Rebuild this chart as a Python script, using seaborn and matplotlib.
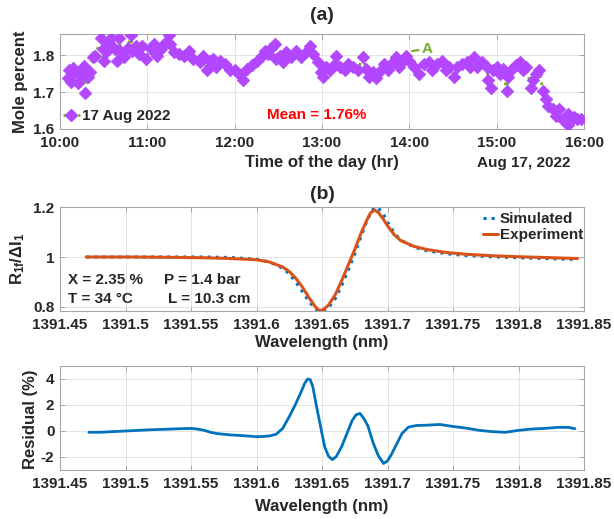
import numpy as np
import pandas as pd
import matplotlib
matplotlib.use('Agg')
import matplotlib.pyplot as plt
from matplotlib.lines import Line2D
import seaborn as sns

# ---------------- Panel (a) data ----------------
minutes_after_10 = [5.7, 6.1, 7.5, 9.1, 10.6, 12.5, 13.6, 15.8, 16.5, 17.4, 19.2, 20.4, 22.6, 24.2,
                    28.3, 29.4, 30.1, 32.4, 34.0, 35.1, 38.0, 39.2, 40.8, 41.4, 44.1, 46.4, 48.7,
                    49.8, 52.1, 54.3, 56.6, 58.9, 62.3, 64.5, 66.8, 69.1, 72.4, 74.7, 75.8, 78.1,
                    81.5, 84.9, 88.3, 91.7, 96.2, 98.5, 100.7, 103.0, 105.3, 107.5, 109.8, 113.2,
                    116.6, 120.2, 123.6, 125.9, 128.2, 131.6, 135.1, 138.5, 140.8, 143.0, 145.3,
                    147.6, 148.7, 151.0, 153.3, 155.6, 159.0, 162.4, 165.8, 169.3, 171.6, 173.8,
                    177.3, 179.5, 180.7, 183.0, 185.2, 188.7, 189.8, 192.1, 195.5, 197.8, 201.2,
                    204.6, 208.0, 210.3, 212.6, 214.9, 217.2, 220.6, 222.9, 225.2, 228.6, 230.9,
                    233.2, 235.4, 237.7, 240.0, 243.4, 246.8, 250.2, 253.6, 255.8, 259.2, 262.6,
                    264.9, 267.2, 270.6, 272.8, 276.2, 279.6, 281.9, 284.1, 286.4, 289.8, 293.2,
                    294.3, 296.1, 297.7, 300.0, 302.3, 304.5, 306.8, 307.9, 310.2, 313.6, 315.8,
                    318.1, 320.4, 323.8, 324.9, 327.2, 329.4, 331.7, 334.0, 335.2, 338.5, 340.8,
                    343.1, 345.4, 348.7, 349.1, 350.9, 353.2, 355.5, 357.7]
mole_percent = [1.737, 1.760, 1.728, 1.766, 1.754, 1.724, 1.750, 1.745, 1.770, 1.697, 1.740, 1.755,
                1.796, 1.798, 1.846, 1.816, 1.785, 1.810, 1.833, 1.846, 1.816, 1.785, 1.846, 1.810,
                1.794, 1.820, 1.855, 1.810, 1.825, 1.803, 1.825, 1.790, 1.816, 1.829, 1.798, 1.816,
                1.833, 1.855, 1.829, 1.807, 1.803, 1.798, 1.810, 1.790, 1.780, 1.798, 1.759, 1.785,
                1.790, 1.768, 1.785, 1.776, 1.759, 1.759, 1.746, 1.732, 1.763, 1.772, 1.785, 1.798,
                1.810, 1.803, 1.820, 1.829, 1.790, 1.798, 1.780, 1.807, 1.794, 1.810, 1.794, 1.807,
                1.825, 1.803, 1.780, 1.754, 1.741, 1.768, 1.759, 1.776, 1.798, 1.768, 1.759, 1.776,
                1.768, 1.759, 1.794, 1.763, 1.741, 1.754, 1.737, 1.759, 1.776, 1.759, 1.780, 1.794,
                1.768, 1.785, 1.798, 1.785, 1.768, 1.750, 1.776, 1.780, 1.759, 1.776, 1.785, 1.759,
                1.768, 1.741, 1.768, 1.776, 1.780, 1.768, 1.794, 1.768, 1.780, 1.768, 1.732, 1.710,
                1.759, 1.768, 1.750, 1.763, 1.702, 1.741, 1.763, 1.772, 1.780, 1.759, 1.768, 1.710,
                1.732, 1.750, 1.759, 1.702, 1.680, 1.662, 1.654, 1.636, 1.654, 1.623, 1.610, 1.640,
                1.623, 1.632, 1.627, 1.627]
legend_a = '17 Aug 2022'
mean_text = 'Mean = 1.76%'
time_ticks = [10, 11, 12, 13, 14, 15, 16]
time_tick_labels = ['10:00', '11:00', '12:00', '13:00', '14:00', '15:00', '16:00']
mole_ticks = [1.6, 1.7, 1.8]
mole_tick_labels = ['1.6', '1.7', '1.8']

# ---------------- Panel (b) data ----------------
wavelength_b = [1391.47, 1391.50, 1391.53, 1391.56, 1391.58, 1391.60, 1391.61, 1391.62, 1391.625,
                1391.63, 1391.635, 1391.64, 1391.645, 1391.648, 1391.651, 1391.655, 1391.66,
                1391.665, 1391.67, 1391.675, 1391.68, 1391.684, 1391.687, 1391.69, 1391.693,
                1391.697, 1391.70, 1391.705, 1391.71, 1391.72, 1391.73, 1391.745, 1391.76,
                1391.78, 1391.80, 1391.82, 1391.845]
experiment = [1.000, 1.000, 0.999, 0.997, 0.994, 0.989, 0.980, 0.960, 0.942, 0.915, 0.880, 0.838,
              0.800, 0.786, 0.789, 0.808, 0.848, 0.905, 0.968, 1.030, 1.098, 1.145, 1.176, 1.188,
              1.178, 1.150, 1.125, 1.090, 1.066, 1.043, 1.030, 1.018, 1.011, 1.005, 1.001, 0.998,
              0.994]
simulated = [1.000, 1.000, 1.000, 1.000, 0.998, 0.991, 0.980, 0.955, 0.933, 0.900, 0.862, 0.822,
             0.792, 0.783, 0.784, 0.797, 0.832, 0.885, 0.947, 1.012, 1.085, 1.140, 1.175, 1.198,
             1.196, 1.170, 1.140, 1.097, 1.068, 1.040, 1.025, 1.013, 1.006, 1.001, 0.997, 0.994,
             0.990]
ratio_ticks = [0.8, 1.0, 1.2]
ratio_tick_labels = ['0.8', '1', '1.2']
wl_ticks = [1391.45, 1391.5, 1391.55, 1391.6, 1391.65, 1391.7, 1391.75, 1391.8, 1391.85]
wl_tick_labels = ['1391.45', '1391.5', '1391.55', '1391.6', '1391.65', '1391.7', '1391.75',
                  '1391.8', '1391.85']

# ---------------- Panel (c) data ----------------
wavelength_c = [1391.472, 1391.48, 1391.49, 1391.50, 1391.51, 1391.52, 1391.53, 1391.54, 1391.55,
                1391.555, 1391.56, 1391.565, 1391.57, 1391.58, 1391.59, 1391.60, 1391.605, 1391.61,
                1391.615, 1391.62, 1391.625, 1391.63, 1391.634, 1391.637, 1391.639, 1391.641,
                1391.643, 1391.646, 1391.649, 1391.652, 1391.655, 1391.658, 1391.661, 1391.665,
                1391.669, 1391.673, 1391.676, 1391.679, 1391.682, 1391.685, 1391.689, 1391.693,
                1391.697, 1391.700, 1391.703, 1391.707, 1391.711, 1391.716, 1391.722, 1391.73,
                1391.74, 1391.75, 1391.76, 1391.77, 1391.78, 1391.79, 1391.80, 1391.81, 1391.82,
                1391.83, 1391.838, 1391.843]
residual = [-0.10, -0.10, -0.05, 0.00, 0.05, 0.10, 0.13, 0.17, 0.20, 0.15, 0.05, -0.10, -0.20,
            -0.30, -0.36, -0.44, -0.42, -0.38, -0.25, 0.20, 1.10, 2.10, 3.00, 3.70, 4.00, 3.95,
            3.40, 1.80, 0.30, -1.20, -1.95, -2.20, -1.95, -1.20, -0.20, 0.80, 1.25, 1.35, 0.95,
            0.40, -0.90, -1.90, -2.50, -2.30, -1.80, -1.00, -0.20, 0.30, 0.42, 0.45, 0.50, 0.35,
            0.22, 0.05, -0.05, -0.10, 0.05, 0.15, 0.20, 0.28, 0.28, 0.18]
res_ticks = [-2, 0, 2, 4]
res_tick_labels = ['-2', '0', '2', '4']

# ---------------- style ----------------
sns.set_theme(style='whitegrid')
plt.rcParams['font.family'] = ['Liberation Sans', 'DejaVu Sans']
plt.rcParams['mathtext.fontset'] = 'custom'
plt.rcParams['mathtext.rm'] = 'Liberation Sans:bold'
plt.rcParams['mathtext.it'] = 'Liberation Sans:bold'
plt.rcParams['mathtext.bf'] = 'Liberation Sans:bold'

VIOLET = '#B347FF'
GREEN = '#77AC30'
BLUE = '#0072BD'
ORANGE = '#D95319'
TXT = '#262626'

W, H = 614, 519
fig = plt.figure(figsize=(W / 100, H / 100), dpi=100)


def fx(x):
    return x / W


def fy(y):
    return 1 - y / H


L, R = 60, 584
ax_a = fig.add_axes([fx(L), fy(129), (R - L) / W, 95 / H])
ax_b = fig.add_axes([fx(L), fy(311), (R - L) / W, 104 / H])
ax_c = fig.add_axes([fx(L), fy(470), (R - L) / W, 104 / H])

# Panel (a)
df_a = pd.DataFrame({'hour': 10 + np.asarray(minutes_after_10) / 60.0, 'mole': mole_percent})
sns.lineplot(data=df_a, x='hour', y='mole', ax=ax_a, color=GREEN, linestyle=':', lw=2,
             estimator=None, sort=False, zorder=2)
sns.scatterplot(data=df_a, x='hour', y='mole', ax=ax_a, marker='D', s=40, color=VIOLET,
                edgecolor=VIOLET, linewidth=0.6, zorder=3)
ax_a.set_xlim(10, 16)
ax_a.set_ylim(1.6, 1.857)
ax_a.set_xticks(time_ticks, time_tick_labels)
ax_a.set_yticks(mole_ticks, mole_tick_labels)

h_a = Line2D([], [], color=GREEN, ls=':', lw=2, marker='D', ms=6.5, mfc=VIOLET, mec=VIOLET)
ax_a.legend([h_a], [legend_a], loc='center left', bbox_to_anchor=(fx(63), fy(116)),
            bbox_transform=fig.transFigure, frameon=False, handlelength=1.1, handletextpad=0.15,
            borderpad=0, borderaxespad=0, prop=dict(weight='bold', size=11))
fig.text(fx(317), fy(115), mean_text, color='#FF0000', fontsize=11, fontweight='bold',
         ha='center', va='center')
ax_a.annotate('A', xy=(10 + 241.9 / 60, 1.811), xytext=(10 + 248.5 / 60, 1.8166),
              color=GREEN, fontsize=11, fontweight='bold', va='center', ha='left',
              arrowprops=dict(arrowstyle='-', color=GREEN, lw=1.6, shrinkA=0, shrinkB=0))

# Panel (b)
df_b = pd.DataFrame({'wl': wavelength_b, 'sim': simulated, 'exp': experiment})
sns.lineplot(data=df_b, x='wl', y='sim', ax=ax_b, color=BLUE, linestyle=':', lw=2.2,
             estimator=None, sort=False, zorder=2)
sns.lineplot(data=df_b, x='wl', y='exp', ax=ax_b, color=ORANGE, linestyle='-', lw=2.2,
             estimator=None, sort=False, zorder=3)
ax_b.set_xlim(1391.45, 1391.85)
ax_b.set_ylim(0.784, 1.2)
ax_b.set_xticks(wl_ticks, wl_tick_labels)
ax_b.set_yticks(ratio_ticks, ratio_tick_labels)
hb = [Line2D([], [], color=BLUE, ls=':', lw=2.2), Line2D([], [], color=ORANGE, ls='-', lw=2.2)]
ax_b.legend(hb, ['Simulated', 'Experiment'], loc='upper left', bbox_to_anchor=(fx(483), fy(212)),
            bbox_transform=fig.transFigure, frameon=False, handlelength=1.0, handletextpad=0.1,
            borderpad=0, borderaxespad=0, labelspacing=0.15, prop=dict(weight='bold', size=11))
fig.text(fx(68), fy(280), 'X = 2.35 %', fontsize=11, fontweight='bold', color=TXT, va='center')
fig.text(fx(164), fy(280), 'P = 1.4 bar', fontsize=11, fontweight='bold', color=TXT, va='center')
fig.text(fx(68), fy(299), 'T = 34 °C', fontsize=11, fontweight='bold', color=TXT, va='center')
fig.text(fx(168), fy(299), 'L = 10.3 cm', fontsize=11, fontweight='bold', color=TXT, va='center')

# Panel (c)
df_c = pd.DataFrame({'wl': wavelength_c, 'res': residual})
sns.lineplot(data=df_c, x='wl', y='res', ax=ax_c, color=BLUE, lw=2, estimator=None, sort=False)
ax_c.set_xlim(1391.45, 1391.85)
ax_c.set_ylim(-3, 5)
ax_c.set_xticks(wl_ticks, wl_tick_labels)
ax_c.set_yticks(res_ticks, res_tick_labels)

for ax in (ax_a, ax_b, ax_c):
    ax.set_xlabel('')
    ax.set_ylabel('')
    ax.set_facecolor('white')
    ax.grid(True, color='#E4E4E4', lw=0.7)
    ax.set_axisbelow(True)
    for s in ax.spines.values():
        s.set_visible(True)
        s.set_color('#A6A6A6')
        s.set_linewidth(0.8)
    ax.tick_params(axis='both', direction='in', length=3.5, width=0.7, color='#A6A6A6',
                   top=True, right=True, bottom=True, left=True, labelsize=11, labelcolor=TXT)
    ax.tick_params(axis='x', pad=5)
    ax.tick_params(axis='y', pad=4)
    for lbl in ax.get_xticklabels() + ax.get_yticklabels():
        lbl.set_fontweight('bold')

# Titles and axis labels
fig.text(fx(322), fy(15), '(a)', fontsize=14, fontweight='bold', color=TXT, ha='center', va='center')
fig.text(fx(322), fy(194), '(b)', fontsize=14, fontweight='bold', color=TXT, ha='center', va='center')
fig.text(fx(322), fy(163), 'Time of the day (hr)', fontsize=12, fontweight='bold', color=TXT,
         ha='center', va='center')
fig.text(fx(524), fy(163), 'Aug 17, 2022', fontsize=11, fontweight='bold', color=TXT,
         ha='center', va='center')
fig.text(fx(322), fy(343), 'Wavelength (nm)', fontsize=12, fontweight='bold', color=TXT,
         ha='center', va='center')
fig.text(fx(322), fy(506), 'Wavelength (nm)', fontsize=12, fontweight='bold', color=TXT,
         ha='center', va='center')
fig.text(fx(21), fy(82), 'Mole percent', fontsize=12, fontweight='bold', color=TXT,
         ha='center', va='center', rotation=90)
fig.text(fx(18), fy(259), r'R$_{1f}$/$\Delta$I$_1$', fontsize=12, fontweight='bold', color=TXT,
         ha='center', va='center', rotation=90)
fig.text(fx(30), fy(419), 'Residual (%)', fontsize=12, fontweight='bold', color=TXT,
         ha='center', va='center', rotation=90)

fig.savefig('out.png', dpi=100)
